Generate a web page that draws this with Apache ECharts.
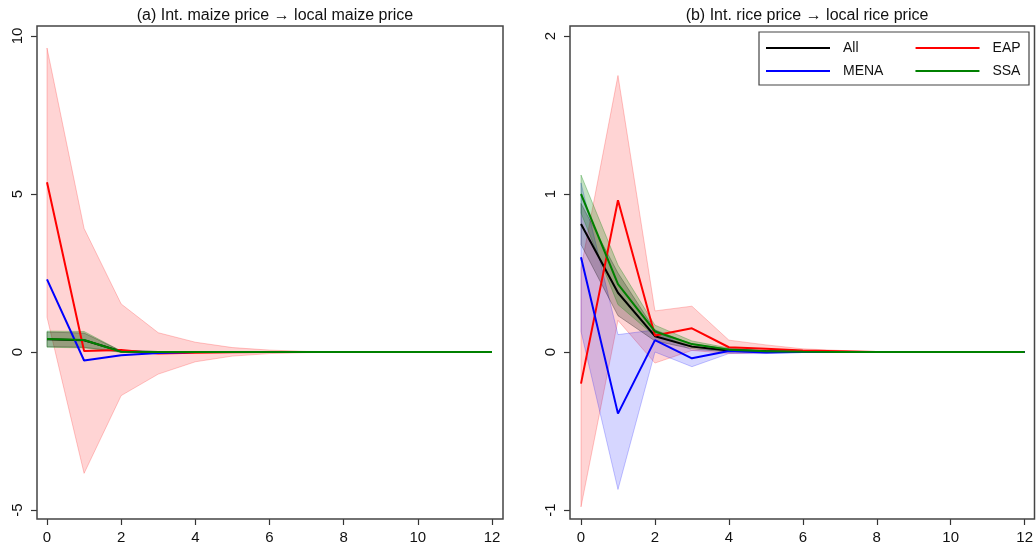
<!DOCTYPE html>
<html>
<head>
<meta charset="utf-8">
<script src="https://cdn.jsdelivr.net/npm/echarts@6/dist/echarts.min.js"></script>
<style>html,body{margin:0;padding:0;background:#fff;}#c{width:1036px;height:551px;}</style>
</head>
<body>
<div id="c"></div>
<script>
// ---- data ----
const steps = [0,1,2,3,4,5,6,7,8,9,10,11,12];
const xTicks = [0,2,4,6,8,10,12];
const titles = ['(a) Int. maize price \u2192 local maize price', '(b) Int. rice price \u2192 local rice price'];
const groups = ['All','EAP','MENA','SSA'];

// Panel (a): maize
const maizeAll   = [0.40, 0.37, 0.02, 0.00, 0.00, 0, 0, 0, 0, 0, 0, 0, 0];
const maizeEAP   = [5.37, 0.03, 0.06, -0.05, -0.02, -0.01, 0, 0, 0, 0, 0, 0, 0];
const maizeMENA  = [2.30, -0.27, -0.10, -0.03, 0.00, 0, 0, 0, 0, 0, 0, 0, 0];
const maizeSSA   = [0.41, 0.38, 0.01, 0.00, 0.00, 0, 0, 0, 0, 0, 0, 0, 0];
const maizeAllLo = [0.17, 0.15, 0.00, 0, 0, 0, 0, 0, 0, 0, 0, 0, 0];
const maizeAllHi = [0.63, 0.60, 0.03, 0, 0, 0, 0, 0, 0, 0, 0, 0, 0];
const maizeEAPLo = [1.10, -3.84, -1.38, -0.70, -0.31, -0.13, -0.05, -0.02, -0.01, 0, 0, 0, 0];
const maizeEAPHi = [9.62, 3.91, 1.52, 0.61, 0.31, 0.14, 0.06, 0.02, 0.01, 0, 0, 0, 0];
const maizeSSALo = [0.15, 0.13, -0.01, 0, 0, 0, 0, 0, 0, 0, 0, 0, 0];
const maizeSSAHi = [0.66, 0.65, 0.03, 0, 0, 0, 0, 0, 0, 0, 0, 0, 0];

// Panel (b): rice
const riceAll    = [0.81, 0.375, 0.10, 0.034, 0.010, 0.005, 0.002, 0, 0, 0, 0, 0, 0];
const riceEAP    = [-0.20, 0.96, 0.105, 0.15, 0.03, 0.02, 0.01, 0.005, 0, 0, 0, 0, 0];
const riceMENA   = [0.60, -0.39, 0.075, -0.04, 0.006, -0.003, 0, 0, 0, 0, 0, 0, 0];
const riceSSA    = [1.00, 0.43, 0.13, 0.05, 0.015, 0.005, 0.002, 0, 0, 0, 0, 0, 0];
const riceAllLo  = [0.68, 0.23, 0.07, 0.02, 0.00, 0, 0, 0, 0, 0, 0, 0, 0];
const riceAllHi  = [0.94, 0.50, 0.14, 0.05, 0.02, 0.01, 0.004, 0, 0, 0, 0, 0, 0];
const riceEAPLo  = [-0.98, 0.20, -0.07, 0.01, -0.01, -0.005, 0, 0, 0, 0, 0, 0, 0];
const riceEAPHi  = [0.53, 1.75, 0.26, 0.29, 0.075, 0.045, 0.02, 0.01, 0, 0, 0, 0, 0];
const riceMENALo = [0.13, -0.87, 0.00, -0.093, -0.01, -0.01, 0, 0, 0, 0, 0, 0, 0];
const riceMENAHi = [1.07, 0.11, 0.14, 0.01, 0.02, 0.005, 0, 0, 0, 0, 0, 0, 0];
const riceSSALo  = [0.88, 0.30, 0.10, 0.03, 0.005, 0, 0, 0, 0, 0, 0, 0, 0];
const riceSSAHi  = [1.12, 0.55, 0.17, 0.07, 0.025, 0.01, 0.004, 0, 0, 0, 0, 0, 0];

// ---- styles ----
const lineColors = {All:'#000000', EAP:'#ff0000', MENA:'#0000ff', SSA:'#008000'};
const bandFill = {All:'rgba(0,0,0,0.22)', EAP:'rgba(255,0,0,0.17)', MENA:'rgba(0,0,255,0.16)', SSA:'rgba(0,128,0,0.24)'};
const bandStroke = {All:'rgba(0,0,0,0.28)', EAP:'rgba(255,0,0,0.22)', MENA:'rgba(0,0,255,0.22)', SSA:'rgba(0,128,0,0.3)'};
const FONT = '"Liberation Sans", Arial, Helvetica, sans-serif';

function band(grid, key, lo, hi) {
  return {
    type: 'custom', xAxisIndex: grid, yAxisIndex: grid, silent: true, z: 1,
    data: steps.map((s, i) => [s, lo[i], hi[i]]),
    encode: {x: 0, y: [1, 2]},
    renderItem: function (params, api) {
      if (params.dataIndex !== 0) return;
      const pts = [];
      for (let i = 0; i < steps.length; i++) pts.push(api.coord([steps[i], hi[i]]));
      for (let i = steps.length - 1; i >= 0; i--) pts.push(api.coord([steps[i], lo[i]]));
      return {type: 'polygon', shape: {points: pts},
        style: {fill: bandFill[key], stroke: bandStroke[key], lineWidth: 1}};
    }
  };
}
function line(grid, key, vals) {
  return {
    type: 'line', name: key, xAxisIndex: grid, yAxisIndex: grid, z: 3,
    data: steps.map((s, i) => [s, vals[i]]),
    symbol: 'none', silent: true,
    lineStyle: {color: lineColors[key], width: 2},
    itemStyle: {color: lineColors[key]}
  };
}
function xAxis(grid) {
  return {
    type: 'value', gridIndex: grid, min: 0, max: 12, interval: 2, offset: 9,
    axisLine: {show: false, onZero: false}, splitLine: {show: false},
    axisTick: {show: true, length: 6, lineStyle: {color: '#333', width: 1.2}},
    axisLabel: {color: '#111', fontSize: 15, fontFamily: FONT, margin: 11}
  };
}
function yAxis(grid, min, max, interval, off) {
  return {
    type: 'value', gridIndex: grid, min: min, max: max, interval: interval, offset: off,
    axisLine: {show: false, onZero: false}, splitLine: {show: false},
    axisTick: {show: true, length: 6, lineStyle: {color: '#333', width: 1.2}},
    axisLabel: {color: '#111', fontSize: 15, fontFamily: FONT, rotate: 90, margin: 12}
  };
}
function legend(names, top, gap) {
  return {data: names, left: 766, top: top, padding: 0, icon: 'rect', itemWidth: 64, itemHeight: 2,
    itemGap: gap, selectedMode: false,
    textStyle: {fontSize: 14, color: '#111', fontFamily: FONT, padding: [0, 0, 0, 8]}};
}

const chart = echarts.init(document.getElementById('c'), null, {renderer: 'canvas'});
chart.setOption({
  animation: false,
  backgroundColor: '#ffffff',
  title: [
    {text: titles[0], left: 270, top: 3, textAlign: 'center',
     textStyle: {fontSize: 16, fontWeight: 'normal', color: '#111', fontFamily: FONT}},
    {text: titles[1], left: 802, top: 3, textAlign: 'center',
     textStyle: {fontSize: 16, fontWeight: 'normal', color: '#111', fontFamily: FONT}}
  ],
  legend: [
    legend(['All', 'EAP'], 41, 57),
    legend(['MENA', 'SSA'], 64, 32)
  ],
  grid: [
    {left: 47, top: 36, width: 445, height: 474},
    {left: 581, top: 36, width: 444, height: 474}
  ],
  xAxis: [xAxis(0), xAxis(1)],
  yAxis: [yAxis(0, -5, 10, 5, 10), yAxis(1, -1, 2, 1, 11)],
  graphic: [
    {type: 'rect', shape: {x: 37, y: 26, width: 466, height: 493}, style: {fill: 'none', stroke: '#444', lineWidth: 1.5}, z: 10, silent: true},
    {type: 'rect', shape: {x: 570, y: 26, width: 464.5, height: 493}, style: {fill: 'none', stroke: '#444', lineWidth: 1.5}, z: 10, silent: true},
    {type: 'rect', shape: {x: 759, y: 32, width: 270, height: 53}, style: {fill: 'none', stroke: '#444', lineWidth: 1.2}, z: 10, silent: true}
  ],
  series: [
    band(0, 'EAP', maizeEAPLo, maizeEAPHi),
    band(0, 'All', maizeAllLo, maizeAllHi),
    band(0, 'SSA', maizeSSALo, maizeSSAHi),
    line(0, 'All', maizeAll),
    line(0, 'EAP', maizeEAP),
    line(0, 'MENA', maizeMENA),
    line(0, 'SSA', maizeSSA),
    band(1, 'EAP', riceEAPLo, riceEAPHi),
    band(1, 'MENA', riceMENALo, riceMENAHi),
    band(1, 'All', riceAllLo, riceAllHi),
    band(1, 'SSA', riceSSALo, riceSSAHi),
    line(1, 'All', riceAll),
    line(1, 'EAP', riceEAP),
    line(1, 'MENA', riceMENA),
    line(1, 'SSA', riceSSA)
  ]
});
</script>
</body>
</html>
